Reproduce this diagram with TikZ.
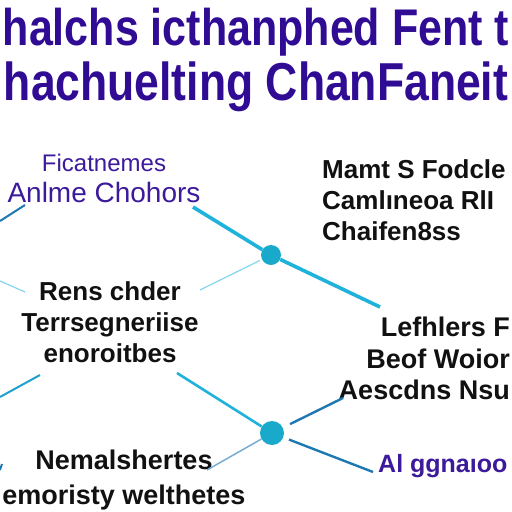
\documentclass[tikz,border=0pt]{standalone}
\usepackage{fontspec}
\setmainfont{Liberation Sans}
\usetikzlibrary{positioning}
\definecolor{titlecolor}{HTML}{300C94}
\definecolor{labelcolor}{HTML}{3C1A9B}
\definecolor{inkcolor}{HTML}{111111}
\definecolor{hubcolor}{HTML}{18A9CB}
\definecolor{linkcyan}{HTML}{1FB2DB}
\definecolor{linkblue}{HTML}{1E78B4}
\definecolor{linklight}{HTML}{86D5EE}
\tikzset{
  net title/.style={text=titlecolor,inner sep=0pt,anchor=base,
    font=\fontsize{43}{50}\selectfont\bfseries},
  net label/.style={text=labelcolor,inner sep=0pt},
  net block/.style={text=inkcolor,inner sep=0pt},
  net hub/.style={circle,fill=hubcolor,inner sep=0pt,minimum size=20pt},
  net main/.style={linkcyan,line width=3.6pt},
  net side/.style={linkblue,line width=2.4pt},
  net thin/.style={linklight,line width=1.2pt}
}

\begin{document}
\begin{tikzpicture}[x=1pt,y=-1pt]
  \useasboundingbox[fill=white] (0,0) rectangle (512,512);
  \node[net title] (titleA) at (256,45) {\scalebox{1}[1.2]{halchs icthanphed Fent t}};
  \node[net title,font=\fontsize{44.5}{50}\selectfont\bfseries]
    (titleB) at (256,100) {\scalebox{1}[1.2]{hachuelting ChanFaneit}};

  \node[net label,align=center,anchor=north,font=\fontsize{28}{31}\selectfont]
    (anlme) at (104,154) {{\fontsize{24}{28}\selectfont Ficatnemes}\\Anlme Chohors};
  \node[net block,align=left,anchor=north west,font=\fontsize{26}{31}\selectfont\bfseries]
    (mamt) at (322,159) {Mamt S Fodcle\\Camlıneoa RlI\\Chaifen8ss};
  \node[net block,align=center,anchor=north,font=\fontsize{26}{31}\selectfont\bfseries]
    (rens) at (110,281) {Rens chder\\Terrsegneriise\\enoroitbes};
  \node[net block,align=right,anchor=north east,font=\fontsize{27}{31.5}\selectfont\bfseries]
    (lefhlers) at (510,317) {Lefhlers F\\Beof Woior\\Aescdns Nsu};
  \node[net block,align=center,anchor=north,font=\fontsize{27}{35}\selectfont\bfseries]
    (nemal) at (124,450) {Nemalshertes\\emoristy welthetes};
  \node[net label,anchor=base west,font=\fontsize{25}{31}\selectfont\bfseries]
    (algg) at (378,472) {Al ggnaıoo};

  \node[net hub] (hubA) at (271,255) {};
  \node[net hub,minimum size=24pt] (hubB) at (272,433) {};

  \coordinate (aTip) at (193,207);
  \coordinate (dTip) at (380,307);
  \coordinate (cTip) at (200,290);
  \coordinate (cLow) at (177,373);
  \coordinate (dLow) at (343,398);
  \coordinate (eTip) at (207,470);
  \coordinate (fTip) at (373,472);
  \coordinate (edgeA) at (0,221);
  \coordinate (edgeC) at (0,281);
  \coordinate (edgeD) at (0,397);
  \coordinate (edgeE) at (0,470);

  \draw[net main] (aTip) -- (hubA);
  \draw[net main] (hubA) -- (dTip);
  \draw[net thin,shorten <=2pt] (hubA) -- (cTip);
  \draw[net main,line width=2.6pt] (cLow) -- (hubB);
  \draw[net side,shorten <=8pt] (hubB) -- (dLow);
  \draw[net thin,linkblue!60,line width=1.5pt] (hubB) -- (eTip);
  \draw[net side,shorten <=6pt] (hubB) -- (fTip);

  \draw[net side,line width=2pt] (edgeA) -- ++(25,-16);
  \draw[net thin] (edgeC) -- ++(25,11);
  \draw[net side,linkcyan!70!linkblue,line width=2pt] (edgeD) -- ++(40,-22);
  \draw[net side,line width=2pt] (edgeE) -- ++(2,-6);
\end{tikzpicture}
\end{document}
